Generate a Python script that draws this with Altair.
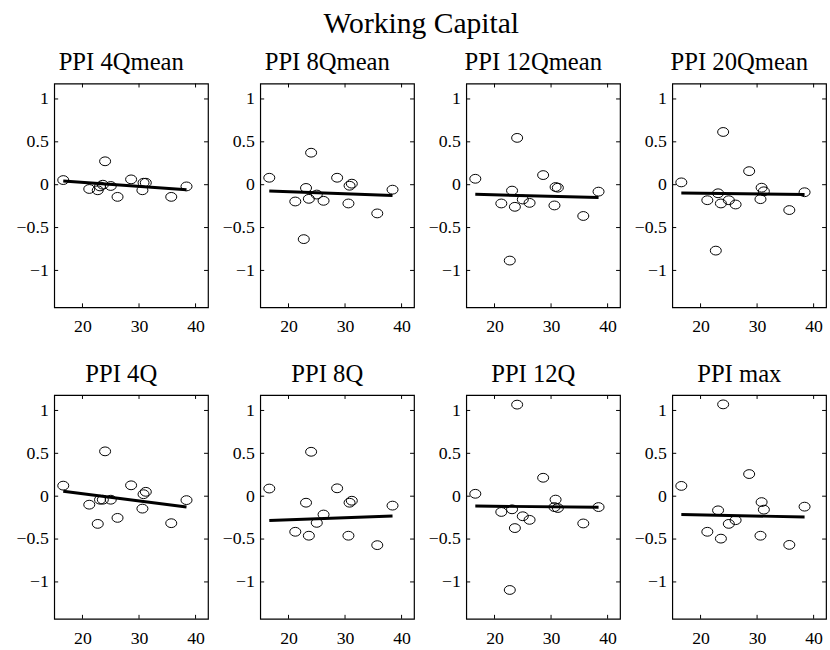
import altair as alt
import pandas as pd

# Panel names, in reading order (two rows of four)
panels = ["PPI 4Qmean", "PPI 8Qmean", "PPI 12Qmean", "PPI 20Qmean",
          "PPI 4Q", "PPI 8Q", "PPI 12Q", "PPI max"]

# Shared x values for every panel
x_vals = [16.6, 21.2, 22.7, 23.1, 23.6, 24.0, 25.0, 26.2, 28.6, 30.6, 30.8, 31.2, 35.7, 38.4]

# Working capital response per panel (None = no observation)
y_4qmean = [0.054, -0.05, -0.065, -0.02, 0.0, 0.273, -0.015, -0.142, 0.062, -0.065, 0.023, 0.023, -0.142, -0.02]
y_8qmean = [0.081, -0.196, -0.635, -0.038, -0.165, 0.373, -0.115, -0.188, 0.081, -0.219, -0.012, 0.012, -0.335, -0.058]
y_12qmean = [0.069, -0.219, -0.885, -0.069, -0.258, 0.546, -0.173, -0.212, 0.112, -0.242, -0.027, -0.035, -0.365, -0.081]
y_20qmean = [0.027, -0.181, -0.769, -0.1, -0.219, 0.615, -0.181, -0.231, 0.158, -0.169, -0.035, -0.077, -0.296, -0.088]
y_4q = [0.123, -0.099, -0.323, -0.041, -0.041, 0.523, -0.041, -0.253, 0.127, -0.145, 0.023, 0.051, -0.315, -0.046]
y_8q = [0.089, -0.415, None, -0.076, -0.461, 0.518, -0.311, -0.214, 0.092, -0.461, -0.076, -0.053, -0.571, -0.11]
y_12q = [0.028, -0.184, -1.094, -0.153, -0.372, 1.068, -0.234, -0.276, 0.215, -0.127, -0.04, -0.138, -0.318, -0.127]
y_max = [0.12, -0.415, None, -0.165, -0.495, 1.071, -0.323, -0.28, 0.258, -0.461, -0.069, -0.157, -0.568, -0.122]

series = [y_4qmean, y_8qmean, y_12qmean, y_20qmean, y_4q, y_8q, y_12q, y_max]

# Fitted line values at the smallest and largest x
fit_start = [0.042, -0.073, -0.112, -0.096, 0.058, -0.283, -0.115, -0.214]
fit_end = [-0.058, -0.127, -0.15, -0.115, -0.127, -0.230, -0.13, -0.242]

# Axis ticks and limits
x_ticks = [20, 30, 40]
y_ticks = [-1, -0.5, 0, 0.5, 1]
x_domain = [15, 42.2]
y_domain = [-1.43, 1.18]

W, H = 156, 227
TICK = 4
SERIF = "Liberation Serif"

# Open ellipse marker
ellipse = "M-1,0A1,0.8,0,1,1,1,0A1,0.8,0,1,1,-1,0Z"

x_scale = alt.Scale(domain=x_domain, nice=False, zero=False)
y_scale = alt.Scale(domain=y_domain, nice=False, zero=False)
x_axis = alt.Axis(values=x_ticks, format="~g", labelPadding=11, title=None)
y_axis = alt.Axis(values=y_ticks, format="~g", labelPadding=6, title=None)


def panel(name, ys, y0, y1):
    pts = pd.DataFrame({"x": x_vals, "y": ys}).dropna()
    fit = pd.DataFrame({"x": [min(x_vals), max(x_vals)], "y": [y0, y1]})
    xt = pd.DataFrame({"v": x_ticks})
    yt = pd.DataFrame({"v": y_ticks})

    scatter = alt.Chart(pts).mark_point(
        shape=ellipse, size=125, filled=False, color="black", strokeWidth=1, opacity=1
    ).encode(
        x=alt.X("x:Q", scale=x_scale, axis=x_axis),
        y=alt.Y("y:Q", scale=y_scale, axis=y_axis),
    )
    line = alt.Chart(fit).mark_line(color="black", strokeWidth=3).encode(
        x=alt.X("x:Q", scale=x_scale),
        y=alt.Y("y:Q", scale=y_scale),
    )
    # inward tick marks on all four sides
    left = alt.Chart(yt).mark_rule(color="black", strokeWidth=1).encode(
        y=alt.Y("v:Q", scale=y_scale), x=alt.value(0), x2=alt.value(TICK))
    right = alt.Chart(yt).mark_rule(color="black", strokeWidth=1).encode(
        y=alt.Y("v:Q", scale=y_scale), x=alt.value(W - TICK), x2=alt.value(W))
    bottom = alt.Chart(xt).mark_rule(color="black", strokeWidth=1).encode(
        x=alt.X("v:Q", scale=x_scale), y=alt.value(H - TICK), y2=alt.value(H))
    top = alt.Chart(xt).mark_rule(color="black", strokeWidth=1).encode(
        x=alt.X("v:Q", scale=x_scale), y=alt.value(0), y2=alt.value(TICK))

    return alt.layer(scatter, line, left, right, bottom, top).properties(
        width=W, height=H,
        title=alt.TitleParams(name, font=SERIF, fontSize=25, fontWeight="normal",
                              color="black", offset=8, dx=-10, anchor="middle", frame="group"),
    )


charts = [panel(n, s, a, b) for n, s, a, b in zip(panels, series, fit_start, fit_end)]

row1 = alt.hconcat(*charts[:4], spacing=11)
row2 = alt.hconcat(*charts[4:], spacing=11)

chart = alt.vconcat(row1, row2, spacing=24).properties(
    title=alt.TitleParams("Working Capital", font=SERIF, fontSize=30, fontWeight="normal",
                          color="black", anchor="middle", offset=11),
    padding={"left": 15, "right": 2, "top": 4, "bottom": 2},
    background="white",
).configure_view(
    stroke="black", strokeWidth=1.2
).configure_axis(
    grid=False, domain=False, ticks=False,
    labelFont=SERIF, labelFontSize=18, labelColor="black",
)

chart.save("out.html", embed_options={"renderer": "svg", "actions": False})
